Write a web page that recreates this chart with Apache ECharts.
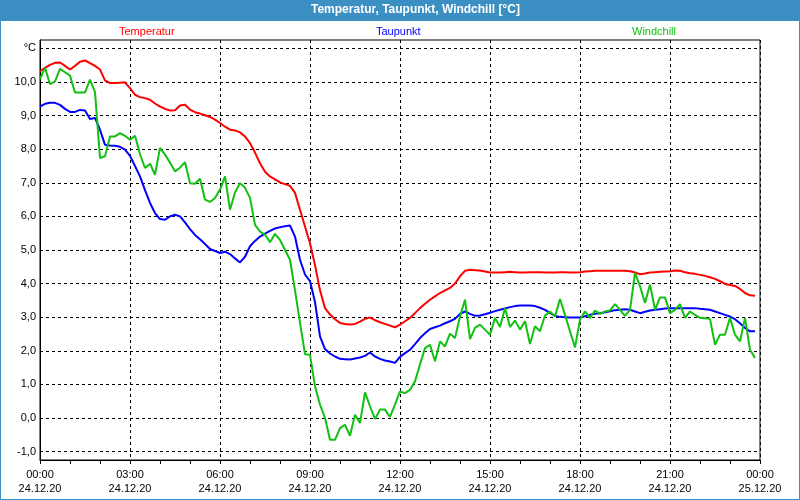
<!DOCTYPE html>
<html><head><meta charset="utf-8">
<script src="https://cdn.jsdelivr.net/npm/echarts@6/dist/echarts.min.js"></script>
<style>html,body{margin:0;padding:0;background:#fff}#c{width:800px;height:500px}</style>
</head><body><div id="c"></div>
<script>
// ---------- data ----------
const chartTitle = 'Temperatur, Taupunkt, Windchill [°C]';
const seriesNames = ['Temperatur', 'Taupunkt', 'Windchill'];
const sampleStepHours = 1 / 6; // one reading every 10 minutes, starting 24.12.20 00:00

const temperatur = [
  10.32,10.42,10.51,10.57,10.58,10.48,10.37,10.48,10.60,10.64,
  10.56,10.48,10.37,10.05,9.97,9.97,9.98,9.99,9.82,9.62,
  9.55,9.52,9.47,9.36,9.27,9.20,9.15,9.16,9.30,9.32,
  9.18,9.10,9.06,9.01,8.96,8.88,8.78,8.67,8.58,8.56,
  8.50,8.38,8.18,7.90,7.58,7.33,7.19,7.10,7.01,6.96,
  6.91,6.70,6.20,5.70,5.20,4.55,3.80,3.27,3.08,2.94,
  2.83,2.80,2.78,2.80,2.87,2.95,2.99,2.91,2.85,2.80,
  2.75,2.70,2.78,2.88,2.98,3.12,3.27,3.40,3.52,3.62,
  3.72,3.80,3.87,4.00,4.22,4.38,4.41,4.40,4.39,4.36,
  4.33,4.33,4.33,4.34,4.35,4.34,4.33,4.33,4.34,4.34,
  4.34,4.33,4.33,4.33,4.34,4.34,4.33,4.33,4.34,4.36,
  4.37,4.38,4.38,4.38,4.38,4.38,4.38,4.38,4.37,4.33,
  4.28,4.30,4.33,4.34,4.35,4.36,4.37,4.39,4.38,4.34,
  4.31,4.29,4.26,4.23,4.19,4.14,4.07,3.99,3.96,3.93,
  3.84,3.72,3.65,3.64
];

const taupunkt = [
  9.27,9.35,9.38,9.38,9.32,9.20,9.11,9.11,9.17,9.15,
  8.90,8.93,8.58,8.13,8.11,8.10,8.07,7.99,7.80,7.50,
  7.19,6.78,6.40,6.10,5.92,5.90,6.00,6.05,6.00,5.82,
  5.62,5.45,5.32,5.18,5.03,4.97,4.91,4.95,4.88,4.75,
  4.63,4.80,5.11,5.27,5.40,5.49,5.57,5.64,5.68,5.71,
  5.73,5.40,4.71,4.27,4.07,3.45,2.43,2.05,1.92,1.83,
  1.76,1.75,1.74,1.77,1.80,1.85,1.95,1.83,1.76,1.71,
  1.68,1.64,1.82,1.93,2.03,2.20,2.38,2.52,2.65,2.70,
  2.75,2.82,2.88,2.95,3.10,3.17,3.10,3.04,3.05,3.09,
  3.13,3.18,3.22,3.26,3.30,3.33,3.35,3.35,3.35,3.33,
  3.28,3.22,3.13,3.04,3.01,3.00,2.99,2.99,2.99,3.03,
  3.07,3.10,3.12,3.15,3.18,3.21,3.22,3.24,3.22,3.17,
  3.12,3.16,3.20,3.22,3.24,3.26,3.27,3.27,3.27,3.27,
  3.27,3.27,3.25,3.24,3.22,3.17,3.12,3.07,3.02,2.94,
  2.82,2.68,2.58,2.58
];

const windchill = [
  10.09,10.42,9.94,10.02,10.39,10.29,10.19,9.69,9.69,9.69,
  10.07,9.70,7.74,7.79,8.38,8.38,8.48,8.40,8.28,8.40,
  7.85,7.44,7.57,7.24,8.04,7.84,7.60,7.34,7.45,7.61,
  6.99,6.97,7.12,6.50,6.43,6.55,6.80,7.19,6.20,6.71,
  6.99,6.85,6.55,5.75,5.55,5.46,5.23,5.48,5.30,5.00,
  4.71,3.80,2.83,1.90,1.88,0.94,0.40,0.00,-0.65,-0.65,
  -0.30,-0.20,-0.53,0.10,-0.15,0.76,0.35,-0.03,0.25,0.25,
  0.03,0.40,0.79,0.74,0.84,1.09,1.59,2.08,2.18,1.69,
  2.28,2.13,2.51,2.38,3.02,3.52,2.35,2.68,2.78,2.63,
  2.48,2.98,2.71,3.27,2.71,2.90,2.63,2.88,2.20,2.73,
  2.58,3.05,3.17,3.02,3.54,3.07,2.58,2.10,2.93,3.17,
  2.98,3.20,3.10,3.17,3.20,3.39,3.22,3.04,3.22,4.32,
  3.92,3.42,3.97,3.22,3.59,3.59,3.12,3.22,3.39,2.98,
  3.17,3.07,2.98,2.97,2.95,2.18,2.48,2.48,2.98,2.48,
  2.28,2.98,2.03,1.79
];

const xTickLabels = [
  '00:00\n24.12.20', '03:00\n24.12.20', '06:00\n24.12.20', '09:00\n24.12.20',
  '12:00\n24.12.20', '15:00\n24.12.20', '18:00\n24.12.20', '21:00\n24.12.20',
  '00:00\n25.12.20'
];
const yUnitLabel = '°C';

// ---------- chart ----------
const FONT = 'Liberation Sans';
const seriesColors = ['#ff0000', '#0000ff', '#11c011'];
const toPairs = arr => arr.map((v, i) => [i * sampleStepHours, v]);

const chart = echarts.init(document.getElementById('c'), null, {renderer: 'canvas'});

const legendLefts = [114, 371, 627];
const option = {
  animation: false,
  backgroundColor: '#ffffff',
  graphic: [
    {type: 'rect', z: 0, shape: {x: 0, y: 0, width: 800, height: 21}, style: {fill: '#3c8fc3'}},
    {type: 'rect', z: 0, shape: {x: 0, y: 0, width: 800, height: 500}, style: {fill: 'none', stroke: '#3c8fc3', lineWidth: 2}}
  ],
  title: {
    text: chartTitle, left: 311, top: 4, padding: 0,
    textStyle: {color: '#ffffff', fontSize: 12, fontWeight: 'bold', fontFamily: FONT}
  },
  legend: seriesNames.map((n, k) => ({
    data: [{name: n, icon: 'none'}],
    left: legendLefts[k], top: 25, padding: 0,
    itemWidth: 0, itemHeight: 14, selectedMode: false,
    textStyle: {color: seriesColors[k], fontSize: 11, fontFamily: FONT}
  })),
  grid: [
    {left: 40, right: 40, top: 40, bottom: 40, show: true, borderColor: '#000', borderWidth: 1, backgroundColor: 'transparent'},
    {left: 40, right: 40, top: 48.4, bottom: 48.4}
  ],
  xAxis: [
    {
      type: 'value', gridIndex: 0, min: 0, max: 24, interval: 3,
      axisLine: {show: true, onZero: false, lineStyle: {color: '#000', width: 1}},
      axisTick: {show: true, length: 4, lineStyle: {color: '#000'}},
      minorTick: {show: true, splitNumber: 3, length: 4, lineStyle: {color: '#000'}},
      splitLine: {show: true, lineStyle: {color: '#000', width: 1, type: [3, 3]}},
      axisLabel: {
        margin: 8, fontSize: 11, lineHeight: 14, color: '#000', fontFamily: FONT,
        showMinLabel: true, showMaxLabel: true, hideOverlap: false,
        formatter: v => xTickLabels[Math.round(v / 3)]
      }
    },
    {type: 'value', gridIndex: 1, min: 0, max: 24, show: false}
  ],
  yAxis: [
    {
      type: 'value', gridIndex: 0, min: -1.25, max: 11.25,
      axisLine: {show: true, onZero: false, lineStyle: {color: '#000', width: 1}},
      axisTick: {show: false}, axisLabel: {show: false}, splitLine: {show: false}
    },
    {
      type: 'value', gridIndex: 1, min: -1, max: 11, interval: 1,
      axisLine: {show: false}, axisTick: {show: false},
      splitLine: {show: true, lineStyle: {color: '#000', width: 1, type: [3, 3]}},
      axisLabel: {
        margin: 4, fontSize: 11, color: '#000', fontFamily: FONT,
        formatter: v => v === 11 ? yUnitLabel : v.toFixed(1).replace('.', ',')
      }
    }
  ],
  series: [temperatur, taupunkt, windchill].map((arr, k) => ({
    name: seriesNames[k], type: 'line', xAxisIndex: 0, yAxisIndex: 0,
    data: toPairs(arr), showSymbol: false, symbol: 'none', smooth: false,
    color: seriesColors[k],
    lineStyle: {color: seriesColors[k], width: 2}, z: 3 + k
  }))
};
chart.setOption(option);
</script>
</body></html>
